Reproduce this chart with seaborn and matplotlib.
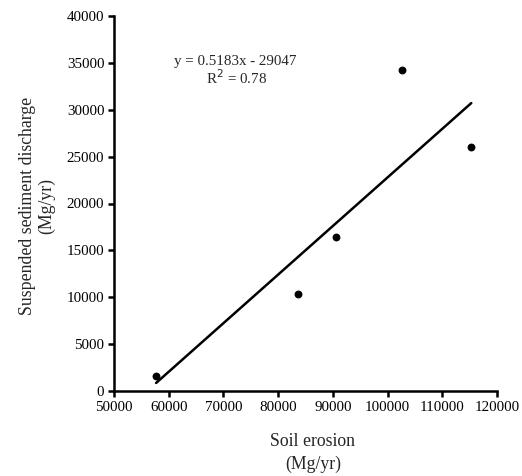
import matplotlib
matplotlib.use("Agg")
import matplotlib.pyplot as plt
import numpy as np
import pandas as pd
import seaborn as sns

# Soil erosion vs. suspended sediment discharge (Mg/yr)
soil_erosion = [57700, 83700, 90600, 102600, 115300]
sediment_discharge = [1600, 10300, 16400, 34200, 26000]

# Linear fit reported on the chart
slope = 0.5183
intercept = -29047
r_squared = 0.78

x_ticks = [50000, 60000, 70000, 80000, 90000, 100000, 110000, 120000]
y_ticks = [0, 5000, 10000, 15000, 20000, 25000, 30000, 35000, 40000]

sns.set_theme(style="white")
plt.rcParams["font.family"] = ["Liberation Serif", "DejaVu Serif"]

df = pd.DataFrame({"erosion": soil_erosion, "discharge": sediment_discharge})

W, H = 522, 476
fig = plt.figure(figsize=(W / 100, H / 100), dpi=100)
ax = fig.add_axes([114 / W, 1 - 391 / H, (497 - 114) / W, (391 - 16) / H])

sns.scatterplot(data=df, x="erosion", y="discharge", ax=ax,
                color="black", s=32, edgecolor="black", linewidth=0, zorder=3)

fit_x = np.array([min(soil_erosion), max(soil_erosion)])
fit_y = slope * fit_x + intercept
sns.lineplot(x=fit_x, y=fit_y, ax=ax, color="black", linewidth=1.8)

ax.set_xlim(50000, 120000)
ax.set_ylim(0, 40000)
ax.set_xticks(x_ticks)
ax.set_yticks(y_ticks)
ax.set_xticklabels([str(t) for t in x_ticks], fontsize=10.8)
ax.set_yticklabels([str(t) for t in y_ticks], fontsize=10.8)

for side in ("top", "right"):
    ax.spines[side].set_visible(False)
for side in ("left", "bottom"):
    ax.spines[side].set_color("black")
    ax.spines[side].set_linewidth(1.8)

ax.tick_params(axis="both", which="major", direction="out", length=4,
               width=1.8, color="black", labelcolor="black", pad=3,
               left=True, bottom=True)
ax.set_xlabel("")
ax.set_ylabel("")

# Axis titles, two lines each
label_size = 12.8
fig.text(312 / W, 1 - 442 / H, "Soil erosion", fontsize=label_size,
         ha="center", va="center")
fig.text(313 / W, 1 - 464 / H, "(Mg/yr)", fontsize=label_size,
         ha="center", va="center")
fig.text(28 / W, 1 - 206 / H, "Suspended sediment discharge", fontsize=label_size,
         ha="center", va="center", rotation=90)
fig.text(47 / W, 1 - 206 / H, "(Mg/yr)", fontsize=label_size,
         ha="center", va="center", rotation=90)

ax.text(72200, 35100, f"y = {slope}x - {abs(intercept)}", fontsize=10.8,
        ha="center", va="center")
ax.text(72400, 33450, f"R$^2$ = {r_squared}", fontsize=10.8,
        ha="center", va="center")

ax.grid(False)
fig.savefig("out.png", dpi=100)
